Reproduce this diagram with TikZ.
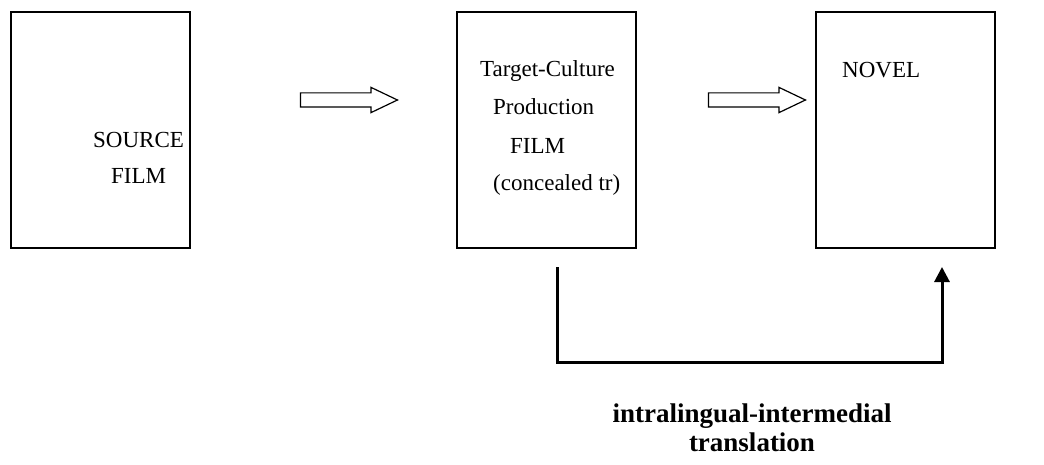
\documentclass[tikz,border=0pt]{standalone}
\usepackage{fontspec}
\setmainfont{Liberation Serif}
\usetikzlibrary{arrows.meta,shapes.arrows}
\begin{document}
\begin{tikzpicture}[x=1pt,y=-1pt,
  framebox/.style={draw,line width=1.6pt,inner sep=0pt,minimum width=179pt,minimum height=236pt},
  boxtext/.style={anchor=base west,inner sep=0pt,font=\fontsize{23}{27}\selectfont},
  hollowarrow/.style={single arrow,draw,line width=1.2pt,inner xsep=0pt,inner ysep=6.5pt,
    single arrow head extend=5.5pt,single arrow tip angle=51,minimum height=97pt},
  feedline/.style={line width=3pt,-{Triangle[width=15pt,length=15pt]}},
  caption/.style={align=center,inner sep=0pt,font=\fontsize{27}{29}\selectfont\bfseries}]
\useasboundingbox (0,0) rectangle (1044,465);

% three frames
\node[framebox] (src) at (100.5,130) {};
\node[framebox] (mid) at (546.5,130) {};
\node[framebox] (nov) at (905.5,130) {};

% frame texts
\node[boxtext] (t1) at (93,148) {SOURCE};
\node[boxtext] (t2) at (111,184) {FILM};
\node[boxtext] (m1) at (480,77) {Target-Culture};
\node[boxtext] (m2) at (493,115) {Production};
\node[boxtext] (m3) at (510,154) {FILM};
\node[boxtext] (m4) at (493,191) {(concealed tr)};
\node[boxtext] (n1) at (842,78) {NOVEL};

% hollow arrows between frames
\node[hollowarrow] (a1) at (341.5,100) {};
\node[hollowarrow] (a2) at (749.5,100) {};

% bent connector below
\coordinate (fstart) at (557,267);
\coordinate (fend) at (942,267);
\draw[feedline] (fstart) -- ++(0,95) -| (fend);

% caption
\node[caption] (cap) at (752,428) {intralingual-intermedial\\translation};
\end{tikzpicture}
\end{document}
